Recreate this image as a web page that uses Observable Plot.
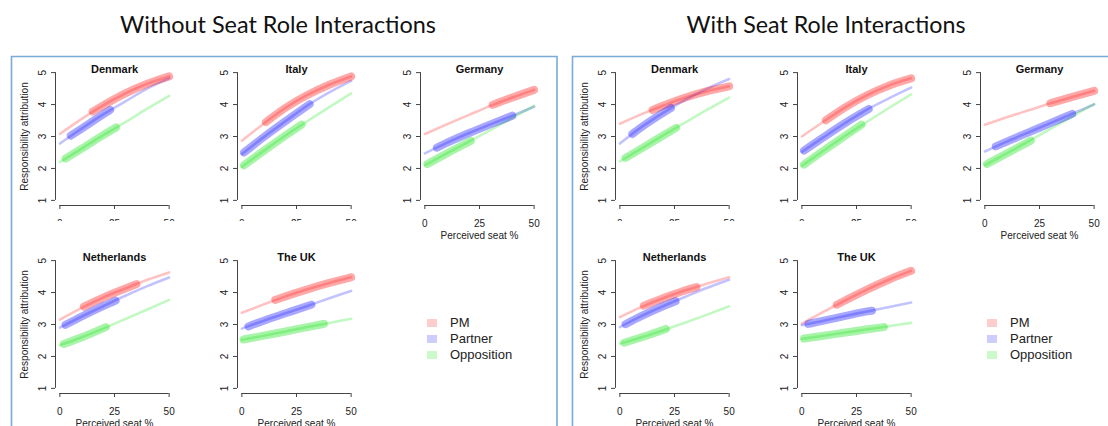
<!DOCTYPE html>
<html><head><meta charset="utf-8">
<script src="https://cdn.jsdelivr.net/npm/d3@7"></script>
<script src="https://cdn.jsdelivr.net/npm/@observablehq/plot@0.6"></script>
<style>
body{margin:0;background:#fff;}
#root{position:relative;width:1108px;height:426px;overflow:hidden;background:#fff;}
.cell{position:absolute;}
.legend{position:absolute;font-family:"Liberation Sans",Arial,sans-serif;font-size:13px;color:#222;}
.legend .row{position:absolute;left:0;white-space:nowrap;height:16px;line-height:16px;}
.legend .sw{position:absolute;left:0;top:4px;width:10px;height:8px;}
.legend .lab{position:absolute;left:23px;top:0;}
</style></head><body><div id="root"></div>
<script>
// ---------- data ----------
const panelTitles = ["Without Seat Role Interactions", "With Seat Role Interactions"];
const countries = ["Denmark", "Italy", "Germany", "Netherlands", "The UK"];
const roles = ["PM", "Partner", "Opposition"];
const seatGrid = [0, 10, 20, 30, 40, 50];
const yTicks = [1, 2, 3, 4, 5];
const xTicks = [0, 25, 50];
const yLabel = "Responsibility attribution";
const xLabel = "Perceived seat %";

// Without seat role interactions: fitted values at seatGrid, rows = PM, Partner, Opposition
const noDenmark = [[3.08, 3.55, 3.98, 4.35, 4.65, 4.88], [2.78, 3.25, 3.70, 4.10, 4.50, 4.82], [2.20, 2.62, 3.05, 3.45, 3.87, 4.27]];
const noItaly = [[2.87, 3.40, 3.90, 4.30, 4.62, 4.88], [2.45, 2.98, 3.48, 3.97, 4.38, 4.74], [2.05, 2.55, 3.03, 3.48, 3.92, 4.35]];
const noGermany = [[3.08, 3.38, 3.67, 3.96, 4.22, 4.46], [2.47, 2.80, 3.10, 3.38, 3.65, 3.93], [2.10, 2.47, 2.83, 3.20, 3.58, 3.96]];
const noNetherlands = [[3.15, 3.52, 3.85, 4.13, 4.40, 4.63], [2.90, 3.25, 3.58, 3.90, 4.20, 4.47], [2.35, 2.60, 2.88, 3.17, 3.47, 3.77]];
const noUK = [[3.37, 3.63, 3.88, 4.10, 4.30, 4.48], [2.87, 3.12, 3.35, 3.58, 3.82, 4.05], [2.52, 2.65, 2.78, 2.92, 3.05, 3.18]];
// observed range (thick part): [seatFrom, valueFrom, seatTo, valueTo]
const noDenmarkRange = [[15, 3.78, 50, 4.88], [5, 3.03, 23, 3.83], [2.6, 2.31, 25.7, 3.28]];
const noItalyRange = [[11, 3.45, 50, 4.88], [1, 2.50, 31, 4.01], [1, 2.10, 27.3, 3.37]];
const noGermanyRange = [[31, 3.99, 50, 4.46], [5.5, 2.65, 40, 3.65], [1.2, 2.14, 21, 2.86]];
const noNetherlandsRange = [[11, 3.56, 35, 4.26], [2.6, 2.99, 25.5, 3.75], [1.8, 2.39, 21, 2.92]];
const noUKRange = [[15.3, 3.77, 50, 4.48], [3, 2.94, 31.8, 3.62], [0.8, 2.53, 37.5, 3.02]];

// With seat role interactions
const wiDenmark = [[3.40, 3.70, 3.97, 4.22, 4.42, 4.57], [2.78, 3.30, 3.75, 4.15, 4.50, 4.80], [2.22, 2.63, 3.04, 3.44, 3.84, 4.22]];
const wiItaly = [[3.00, 3.47, 3.92, 4.30, 4.60, 4.82], [2.52, 2.98, 3.43, 3.85, 4.20, 4.53], [2.08, 2.56, 3.03, 3.47, 3.90, 4.32]];
const wiGermany = [[3.37, 3.60, 3.82, 4.04, 4.24, 4.43], [2.53, 2.84, 3.13, 3.42, 3.71, 4.00], [2.10, 2.47, 2.85, 3.24, 3.63, 4.02]];
const wiNetherlands = [[3.23, 3.55, 3.83, 4.07, 4.28, 4.48], [2.92, 3.27, 3.58, 3.87, 4.15, 4.40], [2.40, 2.60, 2.82, 3.06, 3.31, 3.57]];
const wiUK = [[3.03, 3.40, 3.76, 4.10, 4.41, 4.68], [2.98, 3.12, 3.27, 3.41, 3.55, 3.69], [2.55, 2.65, 2.75, 2.85, 2.95, 3.05]];
const wiDenmarkRange = [[15, 3.83, 50, 4.57], [5.7, 3.08, 23.4, 3.89], [2.6, 2.33, 25.7, 3.27]];
const wiItalyRange = [[11, 3.51, 50, 4.82], [1, 2.56, 30.6, 3.86], [1, 2.12, 27.3, 3.37]];
const wiGermanyRange = [[30, 4.04, 50, 4.43], [5, 2.69, 40, 3.71], [1, 2.14, 21, 2.87]];
const wiNetherlandsRange = [[11, 3.59, 35, 4.17], [2.6, 3.01, 25.5, 3.73], [2, 2.43, 21, 2.86]];
const wiUKRange = [[16, 3.62, 50, 4.68], [3, 3.02, 32, 3.43], [1, 2.56, 37.5, 2.92]];

// ---------- styling / layout ----------
const roleColors = ["#ff0000", "#0000ff", "#00e000"];
const axisColor = "#444";
const font = "'Liberation Sans', Arial, sans-serif";
const xDomain = [-2, 52], yDomain = [0.84, 5.16];
const mL = 44, mR = 8, innerW = 118, innerH = 138, mB = 40;
const rowMarginTop = [17, 34];
const colX0 = [59, 241.5, 424];      // pixel of seat 0
const rowY5 = [72, 260];             // pixel of value 5
const panelDx = [0, 560];
const cellPos = [[0, 0], [1, 0], [2, 0], [0, 1], [1, 1]];

const panels = [
  {values: [noDenmark, noItaly, noGermany, noNetherlands, noUK], ranges: [noDenmarkRange, noItalyRange, noGermanyRange, noNetherlandsRange, noUKRange]},
  {values: [wiDenmark, wiItaly, wiGermany, wiNetherlands, wiUK], ranges: [wiDenmarkRange, wiItalyRange, wiGermanyRange, wiNetherlandsRange, wiUKRange]}
];

const root = document.getElementById("root");

function cellPlot(name, values, ranges, row, col) {
  const thin = [], thick = [];
  roles.forEach((r, i) => {
    seatGrid.forEach((s, j) => thin.push({role: r, seat: s, resp: values[i][j]}));
    const [s0, v0, s1, v1] = ranges[i];
    thick.push({role: r, seat: s0, resp: v0});
    seatGrid.forEach((s, j) => { if (s > s0 + 1 && s < s1 - 1) thick.push({role: r, seat: s, resp: values[i][j]}); });
    thick.push({role: r, seat: s1, resp: v1});
  });
  const mT = rowMarginTop[row];
  return Plot.plot({
    width: mL + innerW + mR, height: mT + innerH + mB,
    marginLeft: mL, marginRight: mR, marginTop: mT, marginBottom: mB,
    x: {domain: xDomain}, y: {domain: yDomain},
    color: {domain: roles, range: roleColors},
    style: {background: row === 1 ? "#fff" : "transparent", fontFamily: font, fontSize: "10px", color: "#222", overflow: "visible"},
    marks: [
      Plot.line(thin, {x: "seat", y: "resp", z: "role", stroke: "role", strokeWidth: 2.6, strokeOpacity: 0.24, curve: "monotone-x"}),
      Plot.line(thick, {x: "seat", y: "resp", z: "role", stroke: "role", strokeWidth: 8, strokeOpacity: 0.34, curve: "monotone-x", strokeLinecap: "round"}),
      Plot.ruleX([xDomain[0]], {y1: yTicks[0], y2: yTicks[yTicks.length - 1], stroke: axisColor}),
      Plot.ruleY([yDomain[0]], {x1: xTicks[0], x2: xTicks[xTicks.length - 1], stroke: axisColor}),
      Plot.axisY({ticks: yTicks, tickFormat: d => String(d), tickSize: 4, tickPadding: 6, tickRotate: -90, textAnchor: "middle", lineAnchor: "bottom", label: null, stroke: axisColor, fill: "#222", fontSize: 10}),
      Plot.axisX({ticks: xTicks, tickFormat: d => String(d), tickSize: 4, tickPadding: 10, label: null, stroke: axisColor, fill: "#222", fontSize: 10}),
      Plot.text([name], {frameAnchor: "top", dy: 1.6, lineAnchor: "middle", fontWeight: "bold", fontSize: 11, fill: "#111"}),
      col === 0 ? Plot.text([yLabel], {frameAnchor: "left", textAnchor: "middle", lineAnchor: "middle", rotate: -90, dx: -31, fontSize: 10, fill: "#222"}) : null,
      Plot.text([xLabel], {frameAnchor: "bottom", textAnchor: "middle", dy: 30, lineAnchor: "middle", fontSize: 10, fill: "#222"})
    ]
  });
}

// draw top row first, then bottom row (which covers the cropped parts)
[0, 1].forEach(row => {
  panels.forEach((p, pi) => {
    countries.forEach((c, ci) => {
      const [col, r] = cellPos[ci];
      if (r !== row) return;
      const el = cellPlot(c, p.values[ci], p.ranges[ci], row, col);
      const wrap = document.createElement("div");
      wrap.className = "cell";
      const x0 = colX0[col] + panelDx[pi];
      wrap.style.left = (x0 - mL - (0 - xDomain[0]) * innerW / (xDomain[1] - xDomain[0])) + "px";
      wrap.style.top = (rowY5[row] - rowMarginTop[row] - (yDomain[1] - 5) * innerH / (yDomain[1] - yDomain[0])) + "px";
      wrap.appendChild(el);
      root.appendChild(wrap);
    });
  });
});

// legends
panelDx.forEach(dx => {
  const lg = document.createElement("div");
  lg.className = "legend";
  lg.style.left = (427 + dx) + "px";
  lg.style.top = "315px";
  roles.forEach((r, i) => {
    const row = document.createElement("div");
    row.className = "row";
    row.style.top = (i * 16) + "px";
    const sw = document.createElement("div");
    sw.className = "sw";
    sw.style.background = d3.interpolateRgb("#ffffff", roleColors[i])(0.2);
    const lab = document.createElement("div");
    lab.className = "lab";
    lab.textContent = r;
    row.appendChild(sw); row.appendChild(lab);
    lg.appendChild(row);
  });
  root.appendChild(lg);
});

// titles and frames (overlay)
const ov = d3.select(root).append("svg")
  .attr("width", 1108).attr("height", 426)
  .style("position", "absolute").style("left", 0).style("top", 0).style("pointer-events", "none");
const titleX = [278, 826], titleLen = [316, 279];
panelTitles.forEach((t, i) => {
  ov.append("text").attr("x", titleX[i]).attr("y", 33).attr("text-anchor", "middle")
    .attr("font-family", "Lato, 'Open Sans', sans-serif").attr("font-size", 23).attr("fill", "#111")
    .attr("textLength", titleLen[i]).attr("lengthAdjust", "spacingAndGlyphs").text(t);
});
const frameColor = "#7aaad8";
ov.append("path").attr("d", "M11.5,430V56.5H557V430").attr("fill", "none").attr("stroke", frameColor).attr("stroke-width", 1.6);
ov.append("path").attr("d", "M572.5,430V56.5H1112").attr("fill", "none").attr("stroke", frameColor).attr("stroke-width", 1.6);
</script></body></html>
